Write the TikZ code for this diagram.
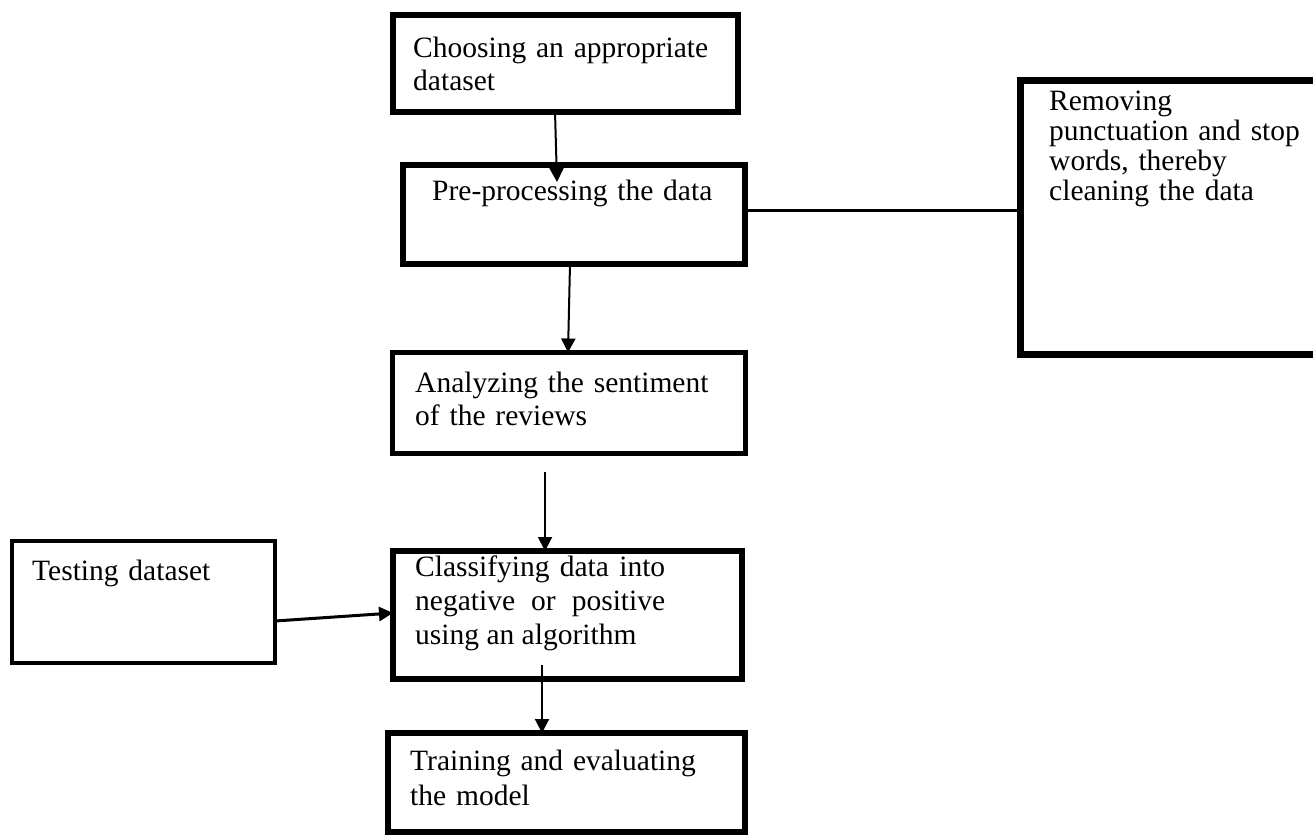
\documentclass[tikz,border=0pt]{standalone}
\usepackage{fontspec}
\setmainfont{Liberation Serif}
\usetikzlibrary{arrows.meta}

\begin{document}
\begin{tikzpicture}[x=1pt, y=-1pt, boxnode/.style={rectangle, draw=black, fill=white, line width=6pt, inner sep=0pt, outer sep=0pt},
 textnode/.style={anchor=base west, inner sep=0pt, align=left, text width=330pt, font=\fontsize{29.5}{31}\selectfont},
 arrowline/.style={-{Triangle[length=14pt,width=14pt]}, black, line width=2pt}, ]

                \useasboundingbox (0,0) rectangle (1313,836);
                \clip (0,0) rectangle (1313,836);
                \fill[white] (0,0) rectangle (1313,836);

                \node[boxnode, minimum width=345pt, minimum height=97pt] (1) at (565.5,63.5) {};
                \node[boxnode, minimum width=342pt, minimum height=99pt] (2) at (574,214.5) {};
                \node[boxnode, line width=7pt, minimum width=320pt, minimum height=274pt] (3) at (1180.5,217.5) {};
                \node[boxnode, line width=5pt, minimum width=353pt, minimum height=101pt] (4) at (569,403) {};
                \node[boxnode, minimum width=349pt, minimum height=128pt] (5) at (567.5,615) {};
                \node[boxnode, line width=4pt, minimum width=263pt, minimum height=122pt] (6) at (143.5,602) {};
                \node[boxnode, minimum width=357pt, minimum height=99pt] (7) at (566.5,782.5) {};

                \node[textnode, font=\fontsize{29.5}{33}\selectfont] (t1) at ([xshift=20pt,yshift=-42pt]1.north west) {Choosing an appropriate\\dataset};
                \node[textnode] (t2) at ([xshift=29pt,yshift=-35pt]2.north west) {Pre-processing the data};
                \node[textnode, text width=280pt, font=\fontsize{29.5}{30}\selectfont] (t3) at ([xshift=28.5pt,yshift=-29.5pt]3.north west) {Removing\\punctuation and stop\\words, thereby\\cleaning the data};
                \node[textnode, font=\fontsize{29.5}{33}\selectfont] (t4) at ([xshift=22.5pt,yshift=-39.5pt]4.north west) {Analyzing the sentiment\\of the reviews};
                \node[textnode, text width=250pt, align=justify, font=\fontsize{29.5}{34}\selectfont] (t5) at ([xshift=22pt,yshift=-25pt]5.north west) {Classifying data into negative or positive using an algorithm};
                \node[textnode, text width=230pt] (t6) at ([xshift=20pt,yshift=-39pt]6.north west) {Testing dataset};
                \node[textnode, font=\fontsize{29.5}{35}\selectfont] (t7) at ([xshift=22pt,yshift=-37pt]7.north west) {Training and evaluating\\the model};

                 \path [arrowline] ([xshift=-10.5pt]1.south) edge ([xshift=-17pt,yshift=-17pt]2.north)
                                   ([xshift=-4pt]2.south) edge ([xshift=-1pt]4.north)
                                   ([xshift=-24pt,yshift=-18.5pt]4.south) edge ([xshift=-22.5pt]5.north)
                                   ([xshift=-25.5pt,yshift=14pt]5.south) edge ([xshift=-24.5pt]7.north);
                 \path [arrowline, line width=3pt] ([yshift=-19pt]6.east) edge ([yshift=2pt]5.west);
                 \path [-, black, line width=3pt] ([yshift=4.5pt]2.east) edge ([yshift=7.5pt]3.west);
\end{tikzpicture}
\end{document}
